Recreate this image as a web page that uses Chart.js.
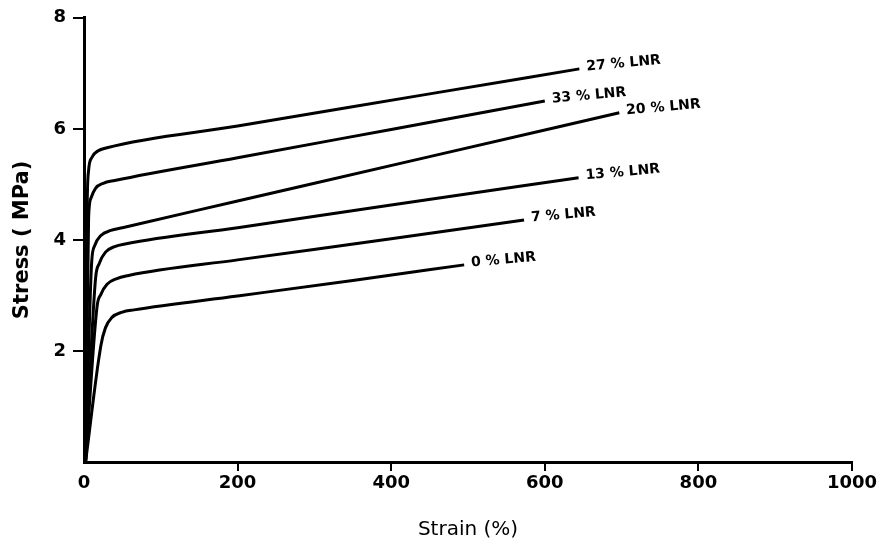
<!DOCTYPE html>
<html>
<head>
<meta charset="utf-8">
<script src="https://cdn.jsdelivr.net/npm/chart.js@4.4.0/dist/chart.umd.min.js"></script>
<style>
  html, body { margin: 0; padding: 0; background: #fff; }
  #wrap { width: 889px; height: 546px; }
</style>
</head>
<body>
<div id="wrap"><canvas id="stressChart" width="889" height="546"></canvas></div>
<script>
// stress-strain curves, strain in %, stress in MPa
var labels = ['27 % LNR', '33 % LNR', '20 % LNR', '13 % LNR', '7 % LNR', '0 % LNR'];

var strain27 = [2, 4, 6, 10, 18, 30, 200, 450, 645];
var stress27 = [0, 4.5, 5.25, 5.48, 5.6, 5.66, 6.05, 6.63, 7.08];

var strain33 = [2, 6, 9, 15, 25, 40, 200, 400, 600];
var stress33 = [0, 4.4, 4.75, 4.93, 5.02, 5.07, 5.48, 5.99, 6.5];

var strain20 = [2, 10, 14, 22, 35, 50, 200, 450, 697];
var stress20 = [0, 3.6, 3.9, 4.08, 4.17, 4.22, 4.7, 5.5, 6.29];

var strain13 = [2, 15, 20, 28, 40, 55, 200, 400, 644];
var stress13 = [0, 3.3, 3.58, 3.78, 3.88, 3.93, 4.22, 4.63, 5.12];

var strain7 = [2, 17, 22, 30, 42, 58, 200, 400, 573];
var stress7 = [0, 2.8, 3.02, 3.2, 3.3, 3.36, 3.64, 4.02, 4.36];

var strain0 = [2, 22, 28, 36, 50, 65, 200, 350, 495];
var stress0 = [0, 2.1, 2.42, 2.6, 2.7, 2.74, 2.99, 3.27, 3.55];

var xTicks = [0, 200, 400, 600, 800, 1000];
var yTicks = [2, 4, 6, 8];

function toPoints(xs, ys){
  var pts = [];
  for (var i = 0; i < xs.length; i++) pts.push({x: xs[i], y: ys[i]});
  return pts;
}

var curves = [
  toPoints(strain27, stress27),
  toPoints(strain33, stress33),
  toPoints(strain20, stress20),
  toPoints(strain13, stress13),
  toPoints(strain7, stress7),
  toPoints(strain0, stress0)
];

var datasets = curves.map(function(pts, i){
  return {
    label: labels[i],
    data: pts,
    borderColor: '#000',
    borderWidth: 3,
    pointRadius: 0,
    fill: false,
    cubicInterpolationMode: 'monotone'
  };
});

// text at the end of each curve
var endLabels = {
  id: 'endLabels',
  afterDatasetsDraw(chart) {
    const ctx = chart.ctx;
    ctx.save();
    ctx.fillStyle = '#000';
    ctx.font = 'bold 14px "DejaVu Sans"';
    ctx.textBaseline = 'middle';
    ctx.textAlign = 'left';
    chart.data.datasets.forEach(function(ds, i){
      const meta = chart.getDatasetMeta(i);
      const last = meta.data[meta.data.length - 1];
      ctx.save();
      ctx.translate(last.x + 7, last.y - 2);
      ctx.rotate(-0.09);
      ctx.fillText(ds.label, 0, 0);
      ctx.restore();
    });
    ctx.restore();
  }
};

var hideZero = function(c){ return c.tick && c.tick.value === 0 ? 'rgba(0,0,0,0)' : '#000'; };

new Chart(document.getElementById('stressChart'), {
  type: 'line',
  data: { datasets: datasets },
  options: {
    responsive: false,
    animation: false,
    layout: { padding: { top: 15, right: 37, left: 0, bottom: 0 } },
    plugins: { legend: { display: false }, tooltip: { enabled: false } },
    scales: {
      x: {
        type: 'linear',
        min: 0, max: 1000,
        afterBuildTicks: function(s){ s.ticks = xTicks.map(function(v){ return {value: v}; }); },
        afterFit: function(s){ s.height = 84; },
        border: { color: '#000', width: 3 },
        grid: { drawOnChartArea: false, color: hideZero, lineWidth: 2, tickLength: 9 },
        ticks: { color: '#000', padding: 2, maxRotation: 0, callback: function(v){ return String(v); },
                 font: { family: 'DejaVu Sans', size: 18, weight: 'bold' } },
        title: { display: true, text: 'Strain (%)', color: '#000', padding: { top: 8 }, font: { family: 'DejaVu Sans', size: 20 } }
      },
      y: {
        type: 'linear',
        min: 0, max: 8,
        afterBuildTicks: function(s){ s.ticks = yTicks.map(function(v){ return {value: v}; }); },
        afterFit: function(s){ s.width = 84; },
        border: { color: '#000', width: 3 },
        grid: { drawOnChartArea: false, color: '#000', lineWidth: 2, tickLength: 11 },
        ticks: { color: '#000', padding: 7, font: { family: 'DejaVu Sans', size: 18, weight: 'bold' } },
        title: { display: true, text: 'Stress ( MPa)', color: '#000', padding: { top: 10, bottom: 4 }, font: { family: 'DejaVu Sans', size: 21, weight: 'bold' } }
      }
    }
  },
  plugins: [endLabels]
});
</script>
</body>
</html>
